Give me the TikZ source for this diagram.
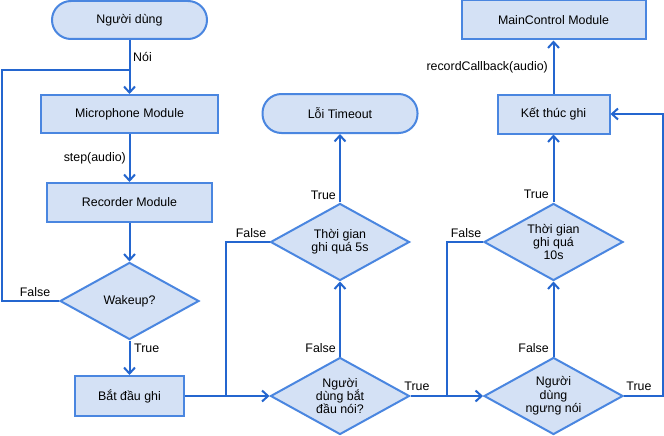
\documentclass[tikz,border=0pt]{standalone}
\usepackage{fontspec}
\setmainfont{Liberation Sans}
\usetikzlibrary{arrows.meta,shapes.geometric}
\definecolor{boxfill}{HTML}{D4E1F5}
\definecolor{boxline}{HTML}{4A86E0}
\definecolor{flowline}{HTML}{2466CF}

\begin{document}
\begin{tikzpicture}[x=1pt,y=-1pt,font=\fontsize{12.4}{13.4}\selectfont,
  box/.style={draw=boxline,fill=boxfill,line width=2pt,inner sep=0pt,minimum height=38pt,align=center},
  term/.style={box,rounded corners=19pt},
  cond/.style={box,diamond,aspect=1.83,minimum width=139pt,minimum height=77pt},
  conn/.style={draw=flowline,line width=2pt},
  flow/.style={conn,-{Straight Barb[length=6pt,width=11pt]}},
  lbl/.style={inner sep=0pt}]
  \useasboundingbox[fill=white] (0,0) rectangle (664,436);
  \coordinate (wakeloop) at (2,70);
  \coordinate (join5) at (226,396);
  \coordinate (join10) at (447,396);
  \coordinate (rightloop) at (663,114);
  \node[term,minimum width=155pt] (user) at (129.5,20) {Người dùng};
  \node[box,minimum width=177pt] (mic) at (129.5,114) {Microphone Module};
  \node[box,minimum width=165pt,minimum height=39pt] (rec) at (129.5,202.5) {Recorder Module};
  \node[cond] (wake) at (129.5,301) {Wakeup?};
  \node[box,minimum width=109pt,minimum height=40pt] (begin) at (129.5,396) {Bắt đầu ghi};
  \node[term,minimum width=155pt,minimum height=39pt] (timeout) at (340,113.5) {Lỗi Timeout};
  \node[cond] (over5) at (340,242) {Thời gian\\ghi quá 5s};
  \node[cond] (speak) at (340,396) {Người\\dùng bắt\\đầu nói?};
  \node[box,minimum width=184pt,minimum height=39pt] (main) at (553.5,20) {MainControl Module};
  \node[box,minimum width=112pt,minimum height=39pt] (finish) at (553.5,114) {Kết thúc ghi};
  \node[cond] (over10) at (553.5,242) {Thời gian\\ghi quá\\10s};
  \node[cond] (quiet) at (553.5,396) {Người\\dùng\\ngưng nói};
  \draw[flow] (user) -- (mic);
  \draw[flow] (mic) -- (rec);
  \draw[flow] (rec) -- (wake);
  \draw[flow] (wake) -- (begin);
  \draw[conn] (wake.west) -| (wakeloop) -- (wakeloop -| user);
  \draw[flow] (begin) -- (speak);
  \draw[conn] (over5.west) -| (join5);
  \draw[flow] (speak) -- (over5);
  \draw[flow] (over5) -- (timeout);
  \draw[flow] (speak) -- (quiet);
  \draw[conn] (over10.west) -| (join10);
  \draw[flow] (quiet) -- (over10);
  \draw[flow] (over10) -- (finish);
  \draw[flow] (quiet.east) -| (rightloop) -- (finish.east);
  \draw[flow] (finish) -- (main);
  \node[lbl,anchor=west] (saylbl) at (133,57) {Nói};
  \node[lbl,anchor=east] (steplbl) at (126,158) {step(audio)};
  \node[lbl] (wakeF) at (35,292) {False};
  \node[lbl,anchor=west] (wakeT) at (134,348) {True};
  \node[lbl,anchor=east] (t5T) at (336,195) {True};
  \node[lbl] (t5F) at (251,233) {False};
  \node[lbl,anchor=east] (spkF) at (336,348) {False};
  \node[lbl] (spkT) at (417,386) {True};
  \node[lbl,anchor=east] (cbk) at (548,67) {recordCallback(audio)};
  \node[lbl,anchor=east] (t10T) at (549,194) {True};
  \node[lbl] (t10F) at (466,233) {False};
  \node[lbl,anchor=east] (qF) at (549,348) {False};
  \node[lbl] (qT) at (639,386) {True};
\end{tikzpicture}
\end{document}
